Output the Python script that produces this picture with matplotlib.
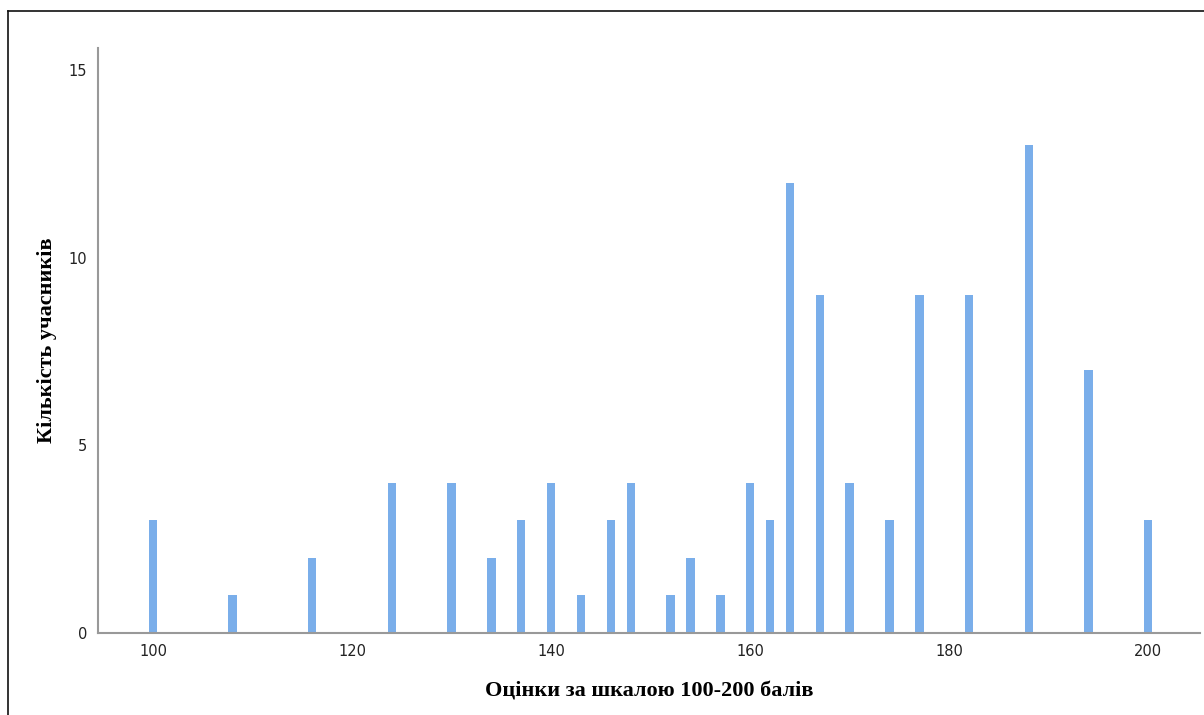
import matplotlib
matplotlib.use("Agg")
import matplotlib.pyplot as plt
from matplotlib.lines import Line2D

scores = [100, 108, 116, 124, 130, 134, 137, 140, 143, 146, 148, 152, 154,
          157, 160, 162, 164, 167, 170, 174, 177, 182, 188, 194, 200]
counts = [3, 1, 2, 4, 4, 2, 3, 4, 1, 3, 4, 1, 2,
          1, 4, 3, 12, 9, 4, 3, 9, 9, 13, 7, 3]
x_ticks = [100, 120, 140, 160, 180, 200]
y_ticks = [0, 5, 10, 15]

W, H = 1204, 715
fig = plt.figure(figsize=(W / 100, H / 100), dpi=100)
ax = fig.add_axes([98 / W, (H - 633) / H, (1200 - 98) / W, (633 - 48) / H])

ax.bar(scores, counts, width=0.85, color="#7aaeea", edgecolor="none")

ax.set_xlim(94.47, 205.2)
ax.set_ylim(0, 15.59)
ax.set_xticks(x_ticks)
ax.set_yticks(y_ticks)
ax.tick_params(length=0, labelsize=10.5, colors="#222222", pad=8)
for lab in ax.get_xticklabels() + ax.get_yticklabels():
    lab.set_family("DejaVu Sans")

for s in ["top", "right"]:
    ax.spines[s].set_visible(False)
for s in ["left", "bottom"]:
    ax.spines[s].set_color("#999999")
    ax.spines[s].set_linewidth(1.5)

ax.set_xlabel("Оцінки за шкалою 100-200 балів", fontsize=16, fontweight="bold",
              family="Liberation Serif", labelpad=16)
ax.set_ylabel("Кількість учасників", fontsize=16, fontweight="bold",
              family="Liberation Serif", labelpad=8)

# outer frame (left and top edges only visible)
fig.add_artist(Line2D([8 / W, 8 / W], [0, (H - 11) / H], color="#111111", lw=1.2))
fig.add_artist(Line2D([8 / W, 1], [(H - 11) / H, (H - 11) / H], color="#111111", lw=1.2))

fig.savefig("out.png", dpi=100)
